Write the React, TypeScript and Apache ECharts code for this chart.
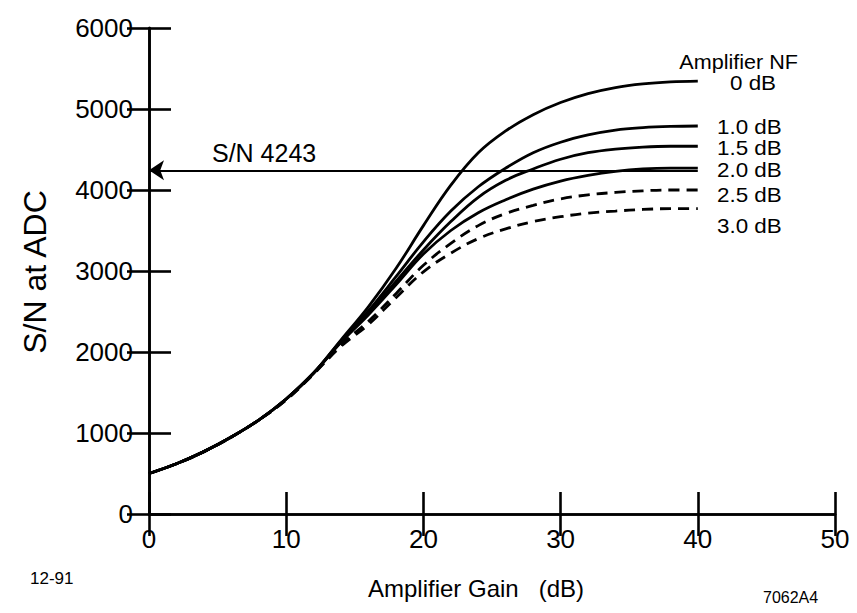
import React, { useEffect, useRef } from "react";
import * as echarts from "echarts";

const gainDb = [0, 2, 4, 6, 8, 10, 12, 14, 16, 18, 20, 22, 24, 26, 28, 30, 32, 34, 36, 38, 40];
const snNf00 = [500, 620, 770, 950, 1160, 1420, 1740, 2150, 2560, 3030, 3560, 4060, 4460, 4730, 4930, 5080, 5190, 5265, 5310, 5335, 5345];
const snNf10 = [500, 620, 770, 950, 1160, 1420, 1740, 2140, 2510, 2930, 3360, 3740, 4040, 4270, 4460, 4590, 4680, 4740, 4770, 4785, 4790];
const snNf15 = [500, 620, 770, 950, 1160, 1420, 1740, 2130, 2490, 2870, 3260, 3610, 3910, 4120, 4260, 4380, 4460, 4505, 4530, 4540, 4540];
const snNf20 = [500, 620, 770, 950, 1160, 1420, 1740, 2120, 2460, 2830, 3210, 3500, 3720, 3880, 4010, 4110, 4180, 4230, 4260, 4270, 4270];
const snNf25 = [500, 620, 770, 950, 1160, 1410, 1730, 2090, 2380, 2720, 3070, 3340, 3560, 3710, 3810, 3890, 3940, 3970, 3990, 4000, 4000];
const snNf30 = [500, 620, 770, 950, 1160, 1410, 1730, 2070, 2340, 2670, 2990, 3220, 3400, 3520, 3610, 3670, 3715, 3740, 3760, 3770, 3770];

const curveNames = ["0 dB", "1.0 dB", "1.5 dB", "2.0 dB", "2.5 dB", "3.0 dB"];
const curveValues = [snNf00, snNf10, snNf15, snNf20, snNf25, snNf30];
const curveDashed = [false, false, false, false, true, true];

const targetSN = 4243;
const targetStart = 40;
const targetEnd = 0;

const xTicks = { min: 0, max: 50, interval: 10 };
const yTicks = { min: 0, max: 6000, interval: 1000 };

const FONT = "'Liberation Sans', Arial, Helvetica, sans-serif";

export default function App() {
  const ref = useRef<HTMLDivElement>(null);
  useEffect(() => {
    if (!ref.current) return;
    const chart = echarts.init(ref.current, undefined, { renderer: "svg" });
    const axisLine = { show: true, lineStyle: { color: "#000", width: 2.6 } };
    const axisTick = { show: true, inside: true, length: 22, lineStyle: { color: "#000", width: 2.6 } };
    const txt = (text: string, x: number, y: number, size: number, align = "left", extra: any = {}) => ({
      type: "text",
      x,
      y,
      ...extra,
      style: {
        text,
        fill: "#000",
        font: `${size}px ${FONT}`,
        textAlign: align,
        textVerticalAlign: "middle",
        align,
        verticalAlign: "middle",
      },
    });
    const series: any[] = curveValues.map((vals, i) => ({
      name: curveNames[i],
      type: "line",
      smooth: 0.4,
      showSymbol: false,
      symbol: "none",
      xAxisIndex: 0,
      yAxisIndex: 0,
      data: gainDb.map((g, j) => [g, vals[j]]),
      lineStyle: { color: "#000", width: 2.8, type: curveDashed[i] ? [11, 7] : "solid" },
      silent: true,
    }));
    series.push({
      name: "target",
      type: "line",
      data: [],
      xAxisIndex: 0,
      yAxisIndex: 0,
      markLine: {
        silent: true,
        symbol: ["none", "arrow"],
        symbolSize: 15,
        label: { show: false },
        lineStyle: { color: "#000", width: 2.2, type: "solid" },
        data: [[{ coord: [targetStart, targetSN] }, { coord: [targetEnd, targetSN] }]],
      },
    });
    const sx = { scaleX: 1.12, originX: 0 };
    chart.setOption({
      animation: false,
      backgroundColor: "#fff",
      grid: { left: 149, right: 22, top: 28, bottom: 99 },
      xAxis: [
        {
          type: "value", ...xTicks, position: "bottom",
          axisLine, axisTick,
          axisLabel: { color: "#000", fontSize: 26, fontFamily: FONT, margin: 12 },
          splitLine: { show: false },
        },
        {
          type: "value", ...xTicks, position: "top",
          axisLine, axisTick, axisLabel: { show: false }, splitLine: { show: false },
        },
      ],
      yAxis: [
        {
          type: "value", ...yTicks, position: "left",
          axisLine, axisTick,
          axisLabel: { color: "#000", fontSize: 26, fontFamily: FONT, margin: 16, formatter: (v: number) => String(v) },
          splitLine: { show: false },
        },
        {
          type: "value", ...yTicks, position: "right",
          axisLine, axisTick, axisLabel: { show: false }, splitLine: { show: false },
        },
      ],
      series,
      graphic: [
        txt("S/N at ADC", 35, 272, 32, "center", { rotation: Math.PI / 2 }),
        txt("Amplifier Gain   (dB)", 476, 588, 24, "center"),
        txt("12-91", 30, 578, 17),
        txt("7062A4", 763, 597, 16),
        txt("S/N 4243", 212, 153, 25),
        txt("Amplifier NF", 798, 62, 20, "right", { scaleX: 1.08, originX: 0 }),
        txt("0 dB", 730, 83, 20, "left", sx),
        txt("1.0 dB", 717, 127, 20, "left", sx),
        txt("1.5 dB", 717, 148, 20, "left", sx),
        txt("2.0 dB", 717, 170, 20, "left", sx),
        txt("2.5 dB", 717, 195, 20, "left", sx),
        txt("3.0 dB", 717, 226, 20, "left", sx),
      ],
    });
    return () => chart.dispose();
  }, []);
  return (
    <div
      ref={ref}
      style={{ position: "fixed", left: 0, top: 0, width: 857, height: 613, background: "#fff" }}
    />
  );
}
